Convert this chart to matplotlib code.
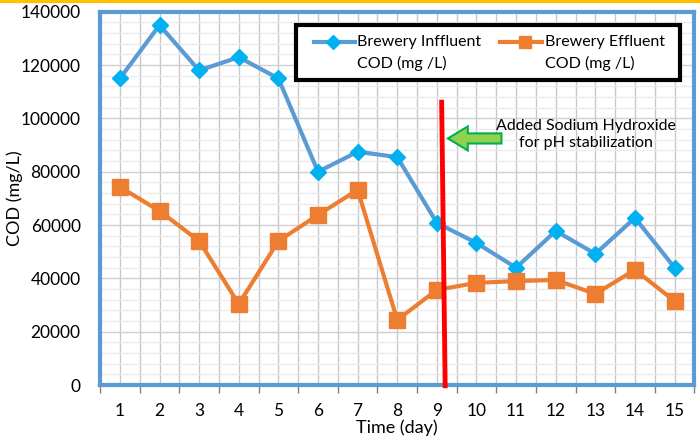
import matplotlib.pyplot as plt
from matplotlib.lines import Line2D
from matplotlib.patches import FancyArrow, Rectangle
import numpy as np

plt.rcParams['font.family'] = ['Lato', 'DejaVu Sans']

days = list(range(1, 16))
influent = [115000, 135000, 118000, 123000, 115000, 80000, 87500, 85500,
            60800, 53300, 44000, 57800, 49200, 62700, 44000]
effluent = [74300, 65300, 54000, 30400, 54000, 63800, 73200, 24400,
            35700, 38300, 39000, 39400, 34200, 43200, 31500]
labels = [('Brewery Inffluent', 'COD (mg /L)'),
          ('Brewery Effluent', 'COD (mg /L)')]

blue = '#5B9BD5'
marker_blue = '#00B0F0'
orange = '#ED7D31'

fig = plt.figure(figsize=(7, 4.38), dpi=100)
ax = fig.add_axes([0.143, 0.121, 0.849, 0.852])

ax.plot(days, influent, color=blue, lw=3, marker='D', ms=8,
        mfc=marker_blue, mec=marker_blue, zorder=4)
ax.plot(days, effluent, color=orange, lw=3, marker='s', ms=11,
        mfc=orange, mec=orange, zorder=4)

ax.set_xlim(0.5, 15.5)
ax.set_ylim(0, 140000)
ax.set_xticks(np.arange(0.5, 16, 1.0))
ax.set_xticklabels([])
ax.set_xticks(days, minor=True)
ax.set_xticklabels([str(d) for d in days], minor=True)
ax.set_yticks(np.arange(0, 140001, 20000))
ax.set_yticks(np.arange(0, 140001, 4000), minor=True)

ax.tick_params(axis='x', which='major', length=6, color='#808080', width=1)
ax.tick_params(axis='x', which='minor', length=0, labelsize=12.5, pad=13)
ax.tick_params(axis='y', which='both', length=0, labelsize=12.5, pad=14)

for x in np.arange(1, 15.6, 0.5):
    ax.axvline(x, color='#C8C8C8', lw=1, zorder=1)
for y in np.arange(4000, 140000, 4000):
    c = '#D0D0D0' if y % 20000 == 0 else '#EBEBEB'
    ax.axhline(y, color=c, lw=1, zorder=1)

for s in ax.spines.values():
    s.set_color(blue)
    s.set_linewidth(3)

ax.set_ylabel('COD (mg/L)', fontsize=13)
ax.yaxis.set_label_coords(-0.13, 0.5)
ax.set_xlabel('Time (day)', fontsize=13)
ax.xaxis.set_label_coords(0.5, -0.092)

# red line where sodium hydroxide was added
ax.plot([9.12, 9.21], [107000, -1200], color='#FF0000', lw=3.5,
        zorder=5, clip_on=False, solid_capstyle='butt')

arrow = FancyArrow(10.63, 92500, -1.35, 0, width=3800, head_width=9000,
                   head_length=0.5, length_includes_head=True,
                   fc='#92D050', ec='#00B050', lw=1.5, zorder=6)
ax.add_patch(arrow)
ax.text(12.75, 94000, 'Added Sodium Hydroxide\nfor pH stabilization',
        ha='center', va='center', fontsize=11.5, linespacing=1.3, zorder=6)

# legend box drawn by hand so the keys sit on the first text line
tr = ax.transAxes
ax.add_patch(Rectangle((0.329, 0.818), 0.647, 0.147, transform=tr,
                       fc='white', ec='black', lw=3, zorder=7))
ax.add_line(Line2D([0.360, 0.429], [0.919, 0.919], transform=tr, color=blue,
                   lw=3, zorder=8))
ax.add_line(Line2D([0.392], [0.919], transform=tr, marker='D', ms=7,
                   mfc=marker_blue, mec=marker_blue, zorder=8))
ax.add_line(Line2D([0.673, 0.744], [0.919, 0.919], transform=tr, color=orange,
                   lw=3, zorder=8))
ax.add_line(Line2D([0.7155], [0.919], transform=tr, marker='s', ms=8,
                   mfc=orange, mec=orange, zorder=8))
for x0, (top, bottom) in zip([0.433, 0.749], labels):
    ax.text(x0, 0.919, top, transform=tr, ha='left', va='center',
            fontsize=11.5, zorder=8)
    ax.text(x0, 0.862, bottom, transform=tr, ha='left', va='center',
            fontsize=11.5, zorder=8)

fig.add_artist(Line2D([0, 1], [0.998, 0.998], color='#FFC000', lw=3,
                      transform=fig.transFigure))

fig.savefig('out.png', dpi=100)
